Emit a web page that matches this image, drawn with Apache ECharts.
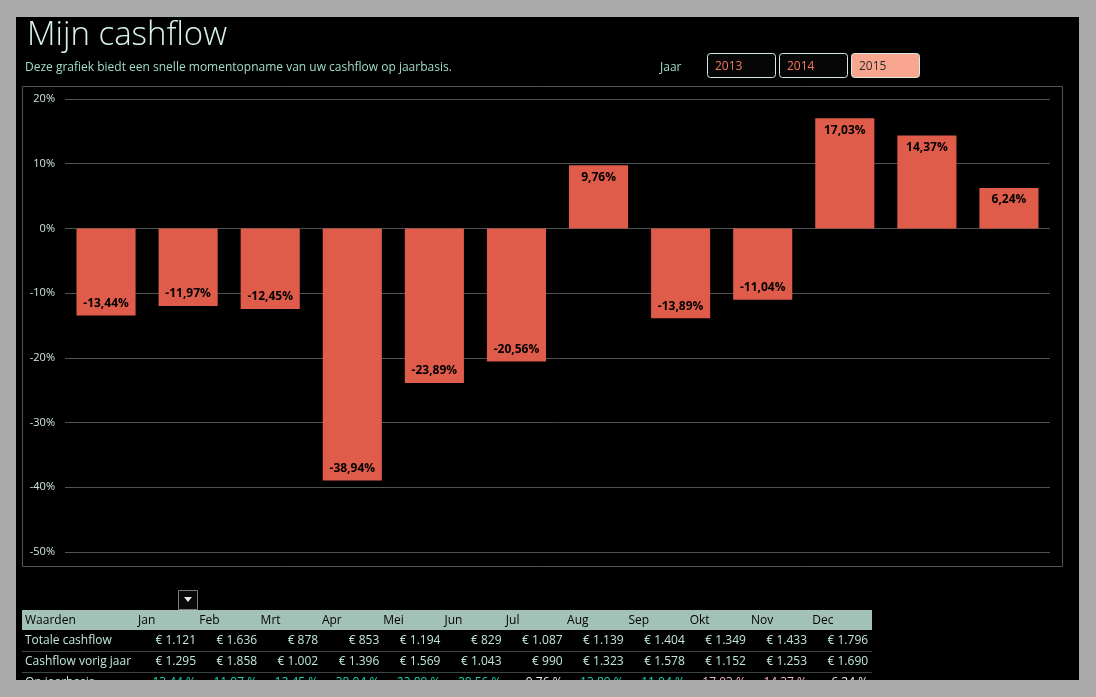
<!DOCTYPE html>
<html>
<head>
<meta charset="utf-8">
<script src="https://cdn.jsdelivr.net/npm/echarts@6/dist/echarts.min.js"></script>
<style>
html,body{margin:0;padding:0;background:#ababab;}
#c{width:1096px;height:697px;}
</style>
</head>
<body>
<div id="c"></div>
<script>
var months = ['Jan','Feb','Mrt','Apr','Mei','Jun','Jul','Aug','Sep','Okt','Nov','Dec'];
var pctValues = [-13.44,-11.97,-12.45,-38.94,-23.89,-20.56,9.76,-13.89,-11.04,17.03,14.37,6.24];
var totalCashflow = [1121,1636,878,853,1194,829,1087,1139,1404,1349,1433,1796];
var prevCashflow = [1295,1858,1002,1396,1569,1043,990,1323,1578,1152,1253,1690];
var years = ['2013','2014','2015'];
var selectedYear = '2015';
var yTicks = {min:-50, max:20, interval:10};

var FONT = "'Open Sans','Noto Sans',sans-serif";
function eur(v){ var s=String(v); if(s.length>3){ s=s.slice(0,s.length-3)+'.'+s.slice(s.length-3);} return '\u20AC ' + s; }
function pctStr(v){ return v.toFixed(2).replace('.',',') + '%'; }

var chart = echarts.init(document.getElementById('c'), null, {renderer:'canvas'});

var g = [];
g.push({type:'rect', z:-10, shape:{x:16,y:17,width:1063,height:663}, style:{fill:'#000'}});
g.push({type:'text', left:27, top:19, style:{text:'Mijn cashflow', font:'300 33px '+FONT, fill:'#d9f3ec'}});
g.push({type:'text', left:25, top:62, style:{text:'Deze grafiek biedt een snelle momentopname van uw cashflow op jaarbasis.', font:'12px '+FONT, fill:'#a2dcc8'}});
g.push({type:'text', left:660, top:62, style:{text:'Jaar', font:'12px '+FONT, fill:'#a2dcc8'}});
years.forEach(function(y,i){
  var sel = y===selectedYear;
  g.push({type:'rect', shape:{x:707.5+i*72, y:53.5, width:68, height:24, r:3},
    style:{fill: sel ? '#f9a690' : '#060606', stroke:'#d4ece2', lineWidth:1}});
  g.push({type:'text', x:715+i*72, y:67, style:{text:y, font:'12px '+FONT, fill: sel ? '#2a2a2a' : '#f27a5a', verticalAlign:'middle'}});
});
// chart frame
g.push({type:'rect', z:-5, shape:{x:22.5,y:86.5,width:1040,height:480}, style:{fill:'none', stroke:'#4b5654', lineWidth:1}});
// dropdown button
g.push({type:'rect', shape:{x:178.5,y:590.5,width:19,height:19}, style:{fill:'#0a0a0a', stroke:'#7a7a7a', lineWidth:1}});
g.push({type:'polygon', shape:{points:[[184,597],[192,597],[188,602]]}, style:{fill:'#e8e8e8'}});
// table header
g.push({type:'rect', shape:{x:22,y:610,width:850,height:20}, style:{fill:'#a3c2b7'}});
g.push({type:'text', x:25, y:621, style:{text:'Waarden', font:'12px '+FONT, fill:'#000', verticalAlign:'middle'}});
months.forEach(function(m,i){
  g.push({type:'text', x:138+i*61.3, y:621, style:{text:m, font:'12px '+FONT, fill:'#000', verticalAlign:'middle'}});
});
var rowNames = ['Totale cashflow','Cashflow vorig jaar','Op jaarbasis'];
var rowY = [641, 662, 683];
[0,1].forEach(function(r){
  g.push({type:'line', shape:{x1:22,y1:rowY[r]+10.5,x2:872,y2:rowY[r]+10.5}, style:{stroke:'#3b4644', lineWidth:1}});
});
rowNames.forEach(function(n,r){
  g.push({type:'text', x:25, y:rowY[r], style:{text:n, font:'12px '+FONT, fill:'#c0e6de', verticalAlign:'middle'}});
});
months.forEach(function(m,i){
  var xe = 196 + i*61.1;
  g.push({type:'text', x:xe, y:rowY[0], style:{text:eur(totalCashflow[i]), font:'12px '+FONT, fill:'#c0e6de', align:'right', verticalAlign:'middle'}});
  g.push({type:'text', x:xe, y:rowY[1], style:{text:eur(prevCashflow[i]), font:'12px '+FONT, fill:'#c0e6de', align:'right', verticalAlign:'middle'}});
  var p = pctValues[i];
  g.push({type:'text', x:xe, y:rowY[2], style:{text:Math.abs(p).toFixed(2).replace('.',',')+' %', font:'12px '+FONT,
    fill: p<0 ? '#19d8b4' : (p>10 ? '#f4b6c0' : '#f0f0f0'), align:'right', verticalAlign:'middle'}});
});
// outer gray mask for clipping the bottom
g.push({type:'rect', z:100, shape:{x:0,y:680,width:1096,height:17}, style:{fill:'#ababab'}});

chart.setOption({
  backgroundColor:'#ababab',
  animation:false,
  grid:{left:65, right:46, top:99, bottom:145, containLabel:false},
  xAxis:{type:'category', data:months, show:true,
    axisLine:{show:false}, axisTick:{show:false}, axisLabel:{show:false}},
  yAxis:{type:'value', min:yTicks.min, max:yTicks.max, interval:yTicks.interval,
    axisLine:{show:false}, axisTick:{show:false},
    axisLabel:{formatter:function(v){return v+'%';}, color:'#cfe6de', fontSize:11, fontFamily:FONT, margin:10},
    splitLine:{lineStyle:{color:'#4a5452', width:1}}},
  series:[{type:'bar', barCategoryGap:'28%',
    data: pctValues.map(function(v){
      return {value:v, label:{position: v<0 ? 'insideBottom' : 'insideTop'}};
    }),
    itemStyle:{color:'#df5b4a'},
    label:{show:true, distance:6, color:'#000', fontWeight:'bold', fontSize:12, fontFamily:FONT,
      formatter:function(p){return pctStr(p.value);}}
  }],
  graphic:{elements:g}
});
</script>
</body>
</html>
